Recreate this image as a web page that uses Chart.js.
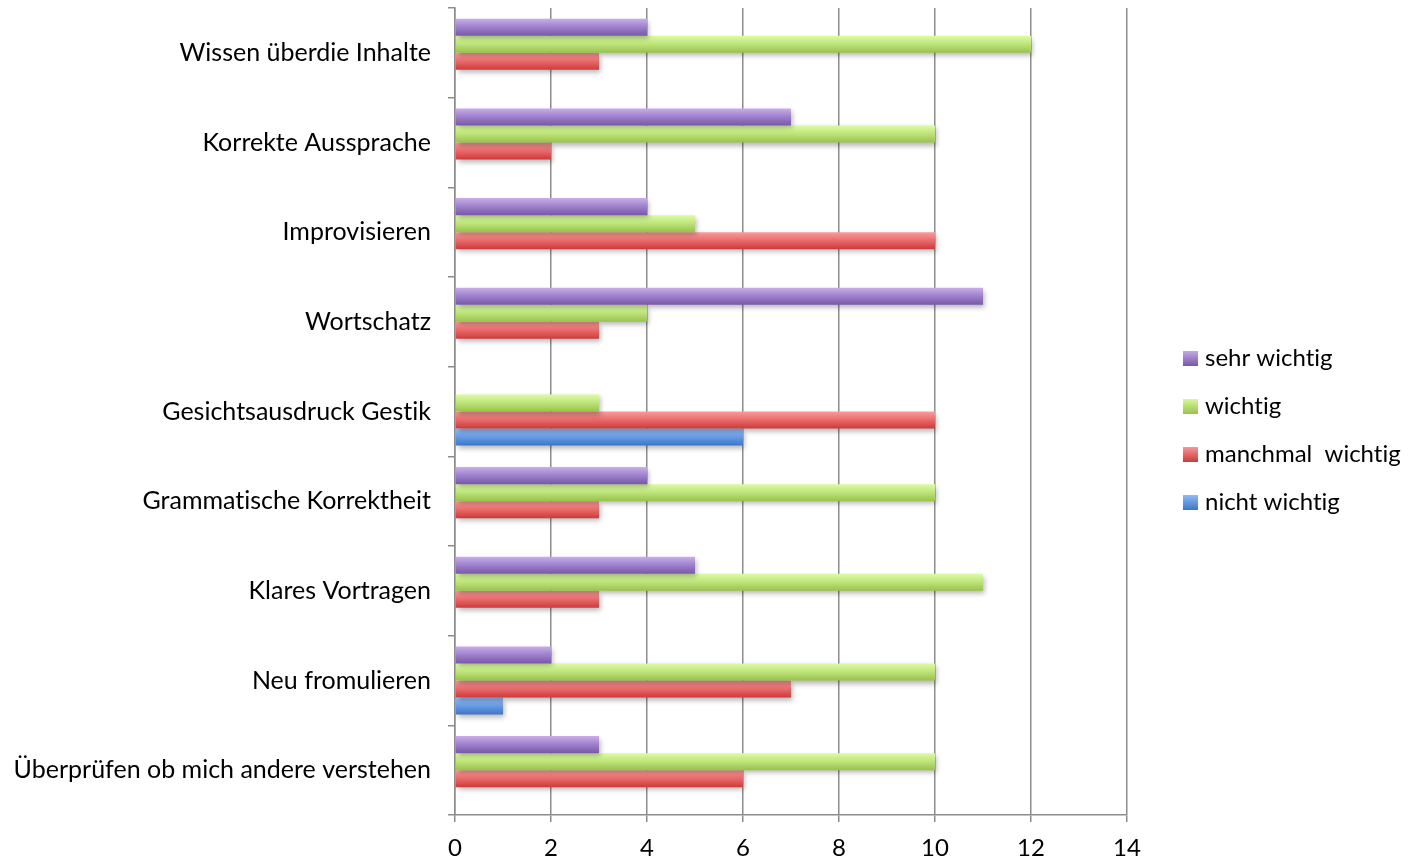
<!DOCTYPE html>
<html>
<head>
<meta charset="utf-8">
<script src="https://cdn.jsdelivr.net/npm/chart.js@4/dist/chart.umd.min.js"></script>
<style>
  html, body { margin: 0; padding: 0; background: #fff; }
  #wrap { width: 1414px; height: 860px; }
</style>
</head>
<body>
<div id="wrap"><canvas id="chart"></canvas></div>
<script>
const categories = [
    'Wissen überdie Inhalte',
    'Korrekte Aussprache',
    'Improvisieren',
    'Wortschatz',
    'Gesichtsausdruck Gestik',
    'Grammatische Korrektheit',
    'Klares Vortragen',
    'Neu fromulieren',
    'Überprüfen ob mich andere verstehen'
];
const seriesNames = ['sehr wichtig', 'wichtig', 'manchmal  wichtig', 'nicht wichtig'];
const sehrWichtig = [4, 7, 4, 11, 0, 4, 5, 2, 3];
const wichtig = [12, 10, 5, 4, 3, 10, 11, 10, 10];
const manchmalWichtig = [3, 2, 10, 3, 10, 3, 3, 7, 6];
const nichtWichtig = [0, 0, 0, 0, 6, 0, 0, 1, 0];
const xMax = 14;
const xStep = 2;

const FONT = 'Lato, "Open Sans", sans-serif';
const gridColor = '#8c8c8c';

// top, middle, bottom of each bar gradient
const purple = ['#c9aeea', '#a184cf', '#7a57a8'];
const green = ['#dcfca2', '#c0e67e', '#98c24a'];
const red = ['#fa9c9c', '#ec6e6e', '#cc3a3a'];
const blue = ['#96c0f8', '#6b9ee6', '#3a76c6'];

function gradient(stops) {
    return (c) => {
        const el = c.element;
        if (!el || !isFinite(el.y) || !isFinite(el.height)) return stops[1];
        const g = c.chart.ctx.createLinearGradient(0, el.y - el.height / 2, 0, el.y + el.height / 2);
        g.addColorStop(0, stops[0]);
        g.addColorStop(0.45, stops[1]);
        g.addColorStop(1, stops[2]);
        return g;
    };
}

// no "ti" ligatures, like the original
const plainText = {
    id: 'plainText',
    beforeDraw(chart) {
        chart.ctx.textRendering = 'optimizeSpeed';
    }
};

const barShadow = {
    id: 'barShadow',
    beforeDatasetsDraw(chart) {
        const ctx = chart.ctx;
        ctx.save();
        ctx.shadowColor = 'rgba(0,0,0,0.28)';
        ctx.shadowBlur = 5;
        ctx.shadowOffsetX = 2;
        ctx.shadowOffsetY = 3;
    },
    afterDatasetsDraw(chart) {
        chart.ctx.restore();
    }
};

const sideLegend = {
    id: 'sideLegend',
    afterDraw(chart) {
        const ctx = chart.ctx;
        ctx.save();
        ctx.font = '24px ' + FONT;
        ctx.textBaseline = 'middle';
        const colors = [purple, green, red, blue];
        chart.data.datasets.forEach((ds, i) => {
            const y = 358 + i * 48;
            const g = ctx.createLinearGradient(0, y - 8, 0, y + 8);
            g.addColorStop(0, colors[i][0]);
            g.addColorStop(1, colors[i][2]);
            ctx.fillStyle = g;
            ctx.fillRect(1183, y - 7, 15, 15);
            ctx.fillStyle = '#000';
            ctx.fillText(ds.label, 1205, y);
        });
        ctx.restore();
    }
};

const chart = new Chart(document.getElementById('chart'), {
    type: 'bar',
    data: {
        labels: categories,
        datasets: [
            { label: seriesNames[0], data: sehrWichtig, backgroundColor: gradient(purple) },
            { label: seriesNames[1], data: wichtig, backgroundColor: gradient(green) },
            { label: seriesNames[2], data: manchmalWichtig, backgroundColor: gradient(red) },
            { label: seriesNames[3], data: nichtWichtig, backgroundColor: gradient(blue) }
        ]
    },
    options: {
        indexAxis: 'y',
        responsive: true,
        maintainAspectRatio: false,
        animation: false,
        categoryPercentage: 0.76,
        barPercentage: 1.0,
        layout: { padding: { top: 8, right: 287, left: 0, bottom: 0 } },
        plugins: {
            legend: { display: false },
            tooltip: { enabled: false }
        },
        scales: {
            x: {
                min: 0,
                max: xMax,
                ticks: { stepSize: xStep, color: '#000', font: { family: FONT, size: 24 }, padding: 12 },
                grid: { color: gridColor, lineWidth: 1.5, tickLength: 7, tickColor: gridColor },
                border: { color: gridColor, width: 1.5 },
                afterFit(s) { s.height = 45; }
            },
            y: {
                ticks: { color: '#000', font: { family: FONT, size: 25 }, padding: 17 },
                grid: { drawOnChartArea: false, offset: true, color: gridColor, lineWidth: 1.5, tickLength: 7 },
                border: { color: gridColor, width: 1.5 },
                afterFit(s) { s.width = 455; s.paddingTop = 0; s.paddingBottom = 0; }
            }
        }
    },
    plugins: [plainText, barShadow, sideLegend]
});
chart.update();
</script>
</body>
</html>
